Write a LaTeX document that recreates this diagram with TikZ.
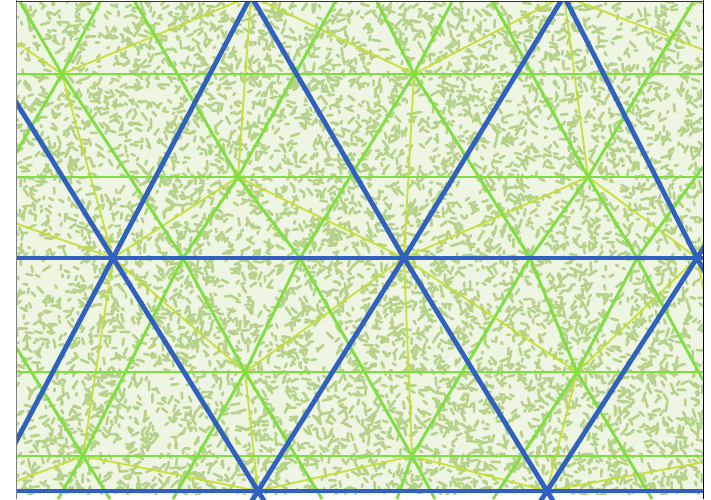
\documentclass[tikz,border=0pt]{standalone}
\usepackage{tikz}
\usetikzlibrary{calc}
\definecolor{meshblue}{RGB}{48,96,192}
\definecolor{meshgreen}{RGB}{128,222,66}
\definecolor{linkyellow}{RGB}{196,222,48}
\definecolor{texgreen}{RGB}{181,210,136}
\definecolor{texpale}{RGB}{238,245,226}
\tikzstyle{blueedge} = [line width=4.8pt, draw=meshblue, line cap=round]
\tikzstyle{greenedge} = [line width=2.9pt, draw=meshgreen, line join=round]
\tikzstyle{linkedge} = [line width=1.9pt, draw=linkyellow, opacity=0.9]
\tikzstyle{blob} = [line width=2.6pt, draw=texgreen, line cap=round]

\begin{document}
\begin{tikzpicture}[x=1pt,y=-1pt]
\useasboundingbox (0,0) rectangle (711,499);

% textured ground
\fill[texpale] (16,2) rectangle (703,494);
\begin{scope}
\clip (16,2) rectangle (703,494);
\pgfmathsetseed{7}
\foreach \k in {1,...,7000}{
  \pgfmathsetmacro\bx{16+687*rnd}
  \pgfmathsetmacro\by{2+492*rnd}
  \pgfmathsetmacro\ba{360*rnd}
  \pgfmathsetmacro\bl{2+7*rnd}
  \draw[blob] (\bx,\by) -- ++(\ba:\bl);
}
\end{scope}

% coarse (blue) mesh vertices
\coordinate (tL) at (-50,-4);
\coordinate (t1) at (251,-4);
\coordinate (t2) at (564,-4);
\coordinate (tR) at (866,-4);
\coordinate (bL) at (-180,258);
\coordinate (b1) at (113,258);
\coordinate (b2) at (404,258);
\coordinate (b3) at (697,258);
\coordinate (bR) at (990,258);
\coordinate (cL) at (-10,491);
\coordinate (c1) at (258,491);
\coordinate (c2) at (547,491);
\coordinate (c3) at (830,491);

% fine (green) mesh vertices
\coordinate (m00) at (62,74);
\coordinate (m01) at (414,74);
\coordinate (m02) at (766,74);
\coordinate (m1L) at (-114,177);
\coordinate (m10) at (238,177);
\coordinate (m11) at (588,177);
\coordinate (m30) at (245,372);
\coordinate (m31) at (577,372);
\coordinate (m40) at (83,456);
\coordinate (m41) at (412,456);
\coordinate (m42) at (737,456);

\begin{scope}
\clip (16,2) rectangle (703,499);

% links to the coarse triangle
\draw[linkedge] (m00) -- (tL) (m00) -- (t1) (m00) -- (b1);
\draw[linkedge] (m01) -- (t1) (m01) -- (t2) (m01) -- (b2);
\draw[linkedge] (m02) -- (t2) (m02) -- (tR) (m02) -- (b3);
\draw[linkedge] (m1L) -- (b1);
\draw[linkedge] (m10) -- (t1) (m10) -- (b1) (m10) -- (b2);
\draw[linkedge] (m11) -- (t2) (m11) -- (b2) (m11) -- (b3);
\draw[linkedge] (m30) -- (b1) (m30) -- (b2) (m30) -- (c1);
\draw[linkedge] (m31) -- (b2) (m31) -- (b3) (m31) -- (c2);
\draw[linkedge] (m40) -- (b1) (m40) -- (cL) (m40) -- (c1);
\draw[linkedge] (m41) -- (b2) (m41) -- (c1) (m41) -- (c2);
\draw[linkedge] (m42) -- (b3) (m42) -- (c2) (m42) -- (c3);

% fine mesh
\foreach \gy in {74,177,258,372,456}
  \draw[greenedge] (16,\gy) -- (703,\gy);
\draw[greenedge] (16,347) -- (m40) -- (110,499);
\draw[greenedge] (20,2) -- (m00) -- (183,258) -- (m30) -- (322,499);
\draw[greenedge] (135,2) -- (m10) -- (300,258) -- (m41) -- (435,499);
\draw[greenedge] (377,2) -- (m01) -- (530,258) -- (m31) -- (652,499);
\draw[greenedge] (493,2) -- (m11) -- (637,258) -- (703,380);
\draw[greenedge] (100,2) -- (m00) -- (16,153);
\draw[greenedge] (335,2) -- (m10) -- (183,258) -- (m40) -- (58,499);
\draw[greenedge] (452,2) -- (m01) -- (300,258) -- (m30) -- (173,499);
\draw[greenedge] (693,2) -- (m11) -- (530,258) -- (m41) -- (397,499);
\draw[greenedge] (703,167) -- (637,258) -- (m31) -- (493,499);

% coarse mesh
\draw[blueedge] (bL) -- (bR);
\draw[blueedge] (cL) -- (c3);
\draw[blueedge] (tL) -- (b1) -- (t1) -- (b2) -- (t2) -- (b3) -- (tR);
\draw[blueedge] (b1) -- (cL) (b1) -- (c1) (b2) -- (c1) (b2) -- (c2) (b3) -- (c2) (b3) -- (c3);
\draw[blueedge] (c1) -- ($(b1)!1.1!(c1)$) (c1) -- ($(b2)!1.1!(c1)$);
\draw[blueedge] (c2) -- ($(b2)!1.1!(c2)$) (c2) -- ($(b3)!1.1!(c2)$);
\end{scope}

% frame
\draw[gray, line width=1pt] (16,0) -- (16,499);
\draw[black!80, line width=1pt] (16,1.5) -- (703.5,1.5);
\draw[black, line width=1pt] (703.5,0) -- (703.5,499);
\end{tikzpicture}
\end{document}
